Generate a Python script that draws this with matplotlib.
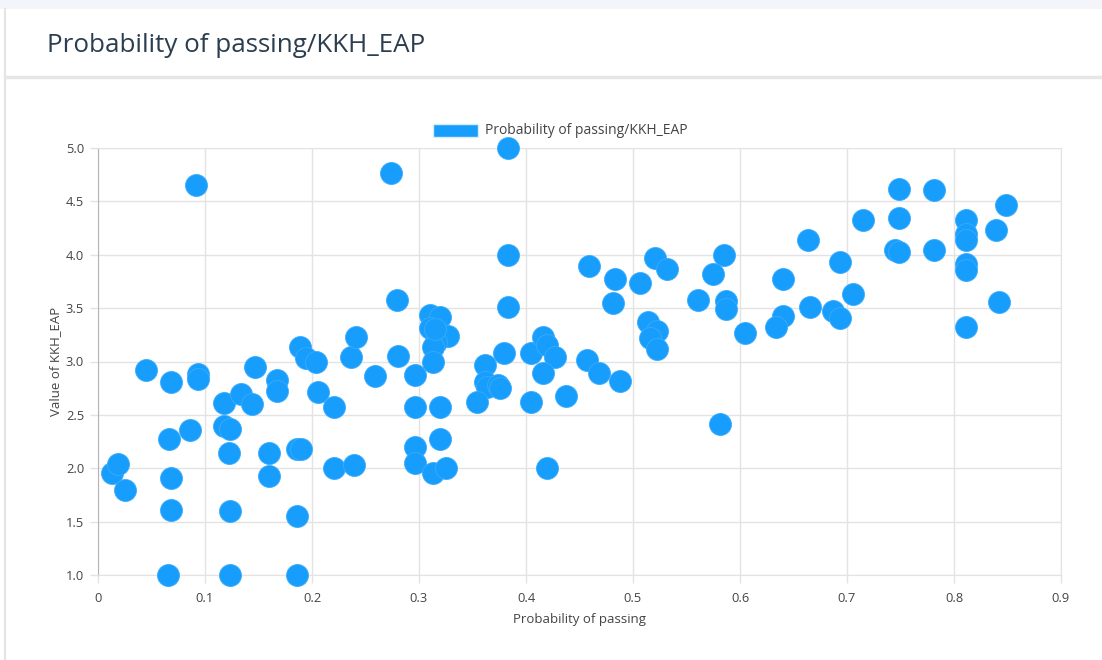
import matplotlib.pyplot as plt
from matplotlib.patches import Rectangle
from matplotlib.lines import Line2D

plt.rcParams['font.family'] = ['Open Sans', 'DejaVu Sans']

# probability of passing (x) and KKH_EAP value (y)
prob = [0.013, 0.019, 0.025, 0.045, 0.068, 0.066, 0.068, 0.068, 0.065, 0.092,
        0.093, 0.093, 0.086, 0.118, 0.118, 0.123, 0.122, 0.123, 0.123, 0.134,
        0.144, 0.147, 0.167, 0.167, 0.160, 0.160, 0.186, 0.190, 0.186, 0.186,
        0.189, 0.194, 0.204, 0.206, 0.221, 0.221, 0.239, 0.236, 0.241, 0.259,
        0.274, 0.279, 0.280, 0.296, 0.296, 0.296, 0.296,
        0.313, 0.325, 0.320, 0.320, 0.310, 0.320, 0.310, 0.327, 0.316, 0.313,
        0.313, 0.315, 0.383, 0.383, 0.383, 0.362, 0.362, 0.364, 0.374, 0.376,
        0.354, 0.379, 0.405, 0.416, 0.420, 0.427, 0.416, 0.405, 0.437, 0.420,
        0.457, 0.468, 0.488, 0.459, 0.483, 0.481, 0.507, 0.521, 0.532, 0.514,
        0.522, 0.516, 0.522, 0.561, 0.575, 0.585, 0.587, 0.587, 0.605, 0.581,
        0.640, 0.640, 0.634, 0.664, 0.665, 0.687, 0.693, 0.693, 0.706, 0.715,
        0.749, 0.749, 0.745, 0.749, 0.781, 0.781, 0.811, 0.811, 0.811, 0.811,
        0.811, 0.811, 0.849, 0.839, 0.842]
kkh = [1.96, 2.04, 1.80, 2.92, 2.81, 2.27, 1.91, 1.61, 1.00, 4.65,
       2.88, 2.84, 2.36, 2.61, 2.40, 2.37, 2.14, 1.60, 1.00, 2.70,
       2.60, 2.95, 2.83, 2.72, 2.14, 1.93, 2.18, 2.18, 1.55, 1.00,
       3.14, 3.03, 3.00, 2.71, 2.57, 2.00, 2.03, 3.04, 3.23, 2.86,
       4.77, 3.58, 3.05, 2.87, 2.57, 2.20, 2.05,
       1.96, 2.00, 2.57, 2.27, 3.44, 3.42, 3.31, 3.24, 3.18, 3.14,
       3.00, 3.30, 5.00, 4.00, 3.51, 2.97, 2.81, 2.76, 2.78, 2.75,
       2.62, 3.08, 3.08, 3.23, 3.15, 3.04, 2.89, 2.62, 2.68, 2.00,
       3.01, 2.89, 2.82, 3.89, 3.77, 3.55, 3.74, 3.97, 3.87, 3.37,
       3.29, 3.22, 3.12, 3.58, 3.82, 4.00, 3.57, 3.49, 3.27, 2.41,
       3.77, 3.43, 3.32, 4.14, 3.51, 3.47, 3.41, 3.93, 3.63, 4.33,
       4.62, 4.34, 4.04, 4.03, 4.61, 4.04, 4.33, 4.19, 4.14, 3.91,
       3.86, 3.32, 4.47, 4.23, 3.56]

x_ticks = [0, 0.1, 0.2, 0.3, 0.4, 0.5, 0.6, 0.7, 0.8, 0.9]
x_labels = ['0', '0.1', '0.2', '0.3', '0.4', '0.5', '0.6', '0.7', '0.8', '0.9']
y_ticks = [1.0, 1.5, 2.0, 2.5, 3.0, 3.5, 4.0, 4.5, 5.0]

title = 'Probability of passing/KKH_EAP'
blue = '#179efc'
txt = '#444444'

fig = plt.figure(figsize=(11.02, 6.6), dpi=100)

# card decoration: top band, left border, separator under the title
fig.add_artist(Rectangle((0, 1 - 9 / 660), 1, 9 / 660, transform=fig.transFigure,
                         facecolor='#f4f5fa', edgecolor='none'))
fig.add_artist(Line2D([5 / 1102, 5 / 1102], [0, 1 - 9 / 660], transform=fig.transFigure,
                      color='#e4e4e4', lw=1.5))
fig.add_artist(Line2D([5 / 1102, 1], [1 - 77 / 660, 1 - 77 / 660], transform=fig.transFigure,
                      color='#e6e6e6', lw=2.5))
fig.text(47 / 1102, 1 - 46 / 660, title, fontsize=18.7, color='#2b3e50', va='center')

ax = fig.add_axes([98 / 1102, 1 - 575 / 660, 963 / 1102, 427 / 660])
ax.scatter(prob, kkh, s=250, color=blue, edgecolors='#3aabfc', linewidths=0.6,
           clip_on=False, zorder=3)

ax.set_xlim(0, 0.9)
ax.set_ylim(1.0, 5.0)
ax.set_xticks(x_ticks)
ax.set_xticklabels(x_labels)
ax.set_yticks(y_ticks)
ax.set_yticklabels(['%.1f' % v for v in y_ticks])
ax.grid(True, color='#e3e3e3', lw=1)
ax.set_axisbelow(True)
for side in ['top', 'right', 'bottom']:
    ax.spines[side].set_color('#e3e3e3')
ax.spines['left'].set_color('#b5b5b5')
ax.tick_params(colors='#e3e3e3', labelcolor=txt, labelsize=9.3, length=6, width=1)
ax.tick_params(axis='x', pad=6)
ax.tick_params(axis='y', pad=4)

ax.set_xlabel('Probability of passing', fontsize=9.5, color=txt, labelpad=6)
ax.set_ylabel('Value of KKH_EAP', fontsize=9.5, color=txt, labelpad=3)

# legend box above the plot
fig.add_artist(Rectangle((433 / 1102, 1 - 137 / 660), 45 / 1102, 13 / 660,
                         transform=fig.transFigure, facecolor=blue, edgecolor='#d8ecfb', lw=1))
fig.text(485 / 1102, 1 - 131 / 660, title, fontsize=10, color=txt, va='center')

plt.savefig('out.png', dpi=100)
